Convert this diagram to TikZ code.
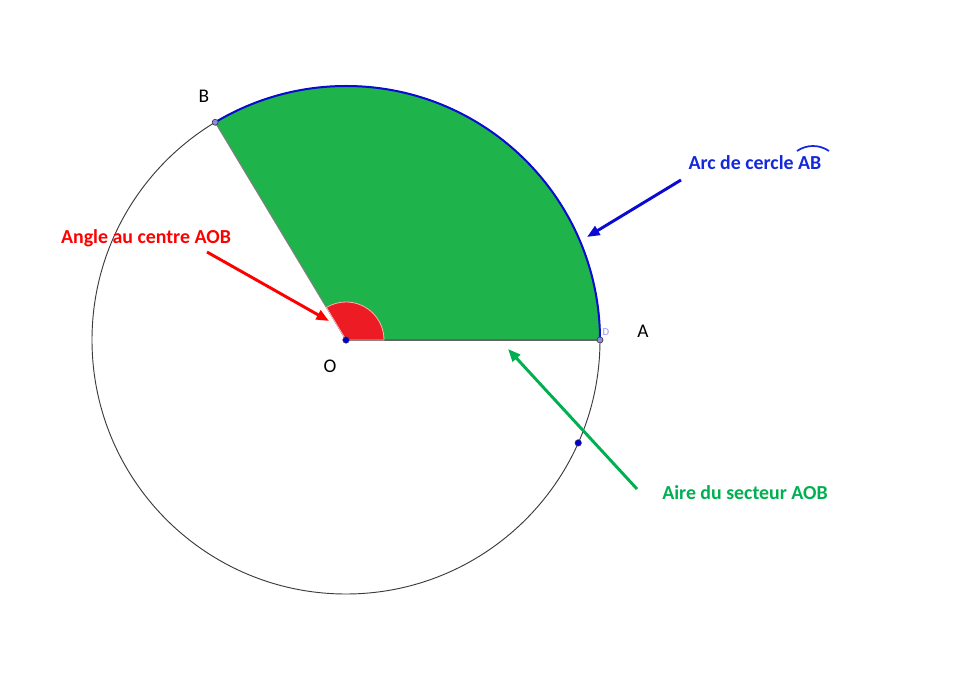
\documentclass[tikz,border=0pt]{standalone}
\usepackage{fontspec}
\setmainfont{Carlito}
\usetikzlibrary{arrows.meta,calc}
\definecolor{secgreen}{RGB}{30,179,75}
\definecolor{angred}{RGB}{237,28,36}
\definecolor{arcblue}{RGB}{10,10,210}
\definecolor{txtblue}{RGB}{20,40,220}
\definecolor{txtred}{RGB}{255,0,0}
\definecolor{txtgreen}{RGB}{0,176,80}
\definecolor{ptfill}{RGB}{140,140,230}
\definecolor{ptdark}{RGB}{0,0,200}
\definecolor{circgray}{RGB}{60,60,60}
\definecolor{lightD}{RGB}{150,150,255}
\tikzset{
  lbl/.style={font=\fontsize{14.9}{17}\selectfont\bfseries, inner sep=0pt},
  ptlbl/.style={font=\fontsize{14.5}{17}\selectfont, inner sep=0pt, text=black},
  callout/.style={line width=2.2pt, -{Triangle[length=9.5pt,width=7.5pt]}},
  freept/.style={circle, fill=ptfill, draw=circgray, line width=0.5pt, inner sep=0pt, minimum size=4.5pt},
  darkpt/.style={circle, fill=ptdark, draw=black!70, line width=0.3pt, inner sep=0pt, minimum size=5pt},
}
\begin{document}
\begin{tikzpicture}[x=0.75pt,y=0.75pt]
\useasboundingbox (0,0) rectangle (965,-677);
\fill[white] (0,0) rectangle (965,-677);
\coordinate (O) at (346,-340);
\coordinate (A) at ($(O)+(0:254)$);
\coordinate (B) at ($(O)+(121:254)$);
\coordinate (P) at ($(O)+(-23.9:254)$);
% circle
\draw[circgray, line width=0.7pt] (O) circle[radius=254];
% green sector
\fill[secgreen] (O) -- (A) arc[start angle=0, end angle=121, radius=254] -- cycle;
\draw[gray, line width=0.8pt] (O) -- (B);
\draw[circgray!80, line width=0.8pt] (O) -- (A);
\draw[arcblue, line width=1.5pt] (A) arc[start angle=0, end angle=121, radius=254];
% red angle
\fill[angred, draw=red!30, line width=0.6pt] (O) -- ($(O)+(0:38)$) arc[start angle=0, end angle=121, radius=38] -- cycle;
% points
\node[freept] (Apt) at (A) {};
\node[freept] (Bpt) at (B) {};
\node[darkpt] (Opt) at (O) {};
\node[darkpt] (Ppt) at (P) {};
% point labels
\node[ptlbl] (Alab) at (643,-331) {A};
\node[ptlbl] (Blab) at (204,-96) {B};
\node[ptlbl] (Olab) at (330,-366) {O};
\node[font=\fontsize{8}{9}\selectfont, text=lightD, inner sep=0pt] (Dlab) at (606,-332) {D};
% text labels
\node[lbl, text=txtred] (angT) at (146,-238) {Angle au centre AOB};
\node[lbl, text=txtblue] (arcT) at (755,-163) {Arc de cercle AB};
\node[lbl, text=txtgreen] (aireT) at (745,-493) {Aire du secteur AOB};
% small arc over AB
\draw[txtblue, line width=1.3pt] (813,-174.1) ++(124.7:28.1) arc[start angle=124.7, end angle=55.3, radius=28.1];
% arrows
\coordinate (r1) at (207,-252);
\coordinate (r2) at (329,-321);
\coordinate (b1) at (681,-180);
\coordinate (b2) at (587,-237);
\coordinate (g1) at (637,-489);
\coordinate (g2) at (508,-349);
\draw[callout, txtred] (r1) -- (r2);
\draw[callout, arcblue] (b1) -- (b2);
\draw[callout, txtgreen] (g1) -- (g2);
\end{tikzpicture}
\end{document}
